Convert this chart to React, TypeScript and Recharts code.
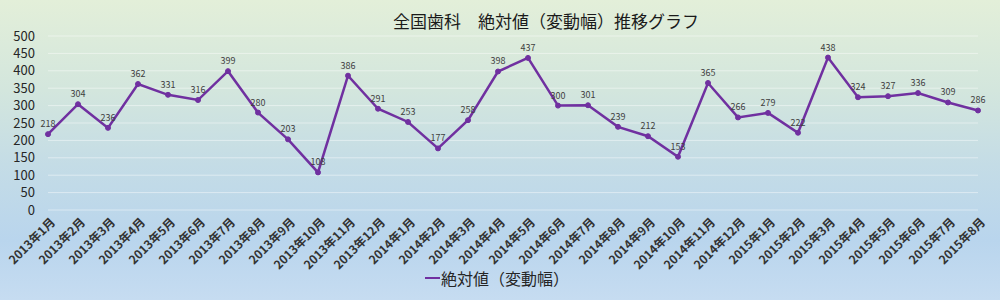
import React from "react";
import { LineChart, Line, XAxis, YAxis, CartesianGrid, Legend, LabelList } from "recharts";

const months: string[] = [
  "2013年1月", "2013年2月", "2013年3月", "2013年4月", "2013年5月", "2013年6月",
  "2013年7月", "2013年8月", "2013年9月", "2013年10月", "2013年11月", "2013年12月",
  "2014年1月", "2014年2月", "2014年3月", "2014年4月", "2014年5月", "2014年6月",
  "2014年7月", "2014年8月", "2014年9月", "2014年10月", "2014年11月", "2014年12月",
  "2015年1月", "2015年2月", "2015年3月", "2015年4月", "2015年5月", "2015年6月",
  "2015年7月", "2015年8月",
];

const values: number[] = [
  218, 304, 236, 362, 331, 316, 399, 280, 203, 108, 386, 291,
  253, 177, 258, 398, 437, 300, 301, 239, 212, 153, 365, 266,
  279, 222, 438, 324, 327, 336, 309, 286,
];

const yTicks: number[] = [0, 50, 100, 150, 200, 250, 300, 350, 400, 450, 500];

const seriesName = "絶対値（変動幅）";
const title = "全国歯科　絶対値（変動幅）推移グラフ";

const data = months.map((m, i) => ({ month: m, value: values[i] }));

const PURPLE = "#7030A0";
const FONT = "'Noto Sans CJK JP', 'Noto Sans', sans-serif";

const XTick = (props: any) => {
  const { x, y, payload } = props;
  const ax = x + 4;
  const ay = y + 9;
  return (
    <text
      x={ax}
      y={ay}
      textAnchor="end"
      dominantBaseline="central"
      transform={`rotate(-45, ${ax}, ${ay})`}
      fontSize={12}
      fontWeight={700}
      fill="#333333"
      fontFamily={FONT}
    >
      {payload.value}
    </text>
  );
};

const LegendContent = () => (
  <div
    style={{
      position: "absolute",
      left: 425,
      top: -2,
      display: "flex",
      alignItems: "center",
      fontFamily: FONT,
      fontSize: 16,
      color: "#262626",
      whiteSpace: "nowrap",
    }}
  >
    <span style={{ display: "inline-block", width: 15, height: 2.5, background: PURPLE, marginRight: 1 }} />
    <span>{seriesName}</span>
  </div>
);

export default function App() {
  return (
    <div
      style={{
        position: "absolute",
        left: 0,
        top: 0,
        width: 1000,
        height: 300,
        background:
          "linear-gradient(to bottom, #e3efd9 0%, #d3e6dd 30%, #c4dce6 55%, #b9d5ed 80%, #c6dcf1 100%)",
        overflow: "hidden",
      }}
    >
      <div
        style={{
          position: "absolute",
          left: 346,
          width: 400,
          top: 8,
          textAlign: "center",
          fontFamily: FONT,
          fontSize: 17,
          color: "#1a1a1a",
          lineHeight: "26px",
          whiteSpace: "nowrap",
        }}
      >
        {title}
      </div>
      <LineChart
        width={1000}
        height={300}
        data={data}
        margin={{ top: 36, right: 22, bottom: 0, left: 0 }}
      >
        <CartesianGrid vertical={false} stroke="#ffffff" strokeOpacity={0.45} strokeWidth={1} />
        <XAxis
          dataKey="month"
          interval={0}
          height={58}
          tickSize={0}
          tickMargin={0}
          axisLine={false}
          tickLine={false}
          tick={<XTick />}
        />
        <YAxis
          domain={[0, 500]}
          ticks={yTicks}
          width={48}
          tickSize={0}
          tickMargin={13}
          axisLine={false}
          tickLine={false}
          tick={{ fontSize: 13, fill: "#262626", fontFamily: FONT }}
          interval={0}
        />
        <Legend verticalAlign="bottom" height={32} content={<LegendContent />} />
        <Line
          type="linear"
          dataKey="value"
          name={seriesName}
          stroke={PURPLE}
          strokeWidth={2.5}
          dot={{ r: 2.5, fill: PURPLE, stroke: PURPLE, strokeWidth: 1 }}
          isAnimationActive={false}
        >
          <LabelList
            dataKey="value"
            position="top"
            offset={7}
            fontSize={9}
            fill="#404040"
            fontFamily={FONT}
          />
        </Line>
      </LineChart>
    </div>
  );
}
